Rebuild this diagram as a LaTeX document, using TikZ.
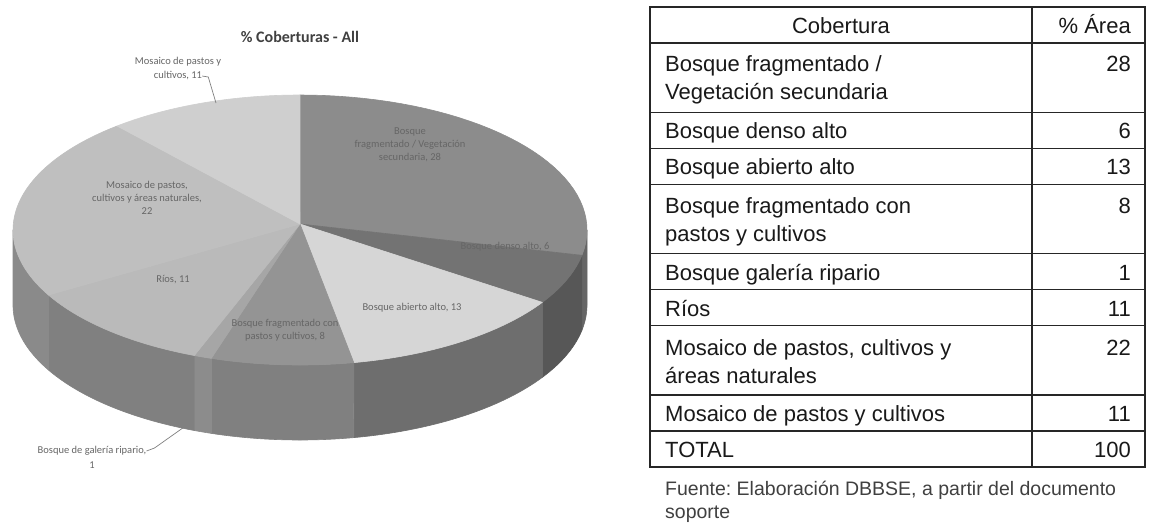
\documentclass[tikz,border=0pt]{standalone}
\usepackage{fontspec}
\setmainfont{Liberation Sans}
\newfontfamily\calfont{Carlito}
\frenchspacing
\newcommand{\topwedge}[3]{\filldraw[fill=#3,draw=#3,line width=0.6pt,line join=round] (300,224) -- plot[domain=0:1,samples=40] ({300+287*cos(#1+(#2-#1)*\x)},{230+135*sin(#1+(#2-#1)*\x)}) -- cycle;}
\newcommand{\sidewall}[3]{\filldraw[fill=#3,draw=#3,line width=0.6pt,line join=round] plot[domain=0:1,samples=30] ({300+287*cos(#1+(#2-#1)*\x)},{230+135*sin(#1+(#2-#1)*\x)}) -- plot[domain=0:1,samples=30] ({300+287*cos(#2-(#2-#1)*\x)},{305+135*sin(#2-(#2-#1)*\x)}) -- cycle;}
\begin{document}
\begin{tikzpicture}[x=1pt,y=-1pt,
  tabtxt/.style={font=\fontsize{22}{26}\selectfont, text=black!90, inner sep=0pt},
  lefttxt/.style={tabtxt, anchor=base west},
  numtxt/.style={tabtxt, anchor=base east},
  srctxt/.style={font=\fontsize{19.5}{23}\selectfont, text=black!75, inner sep=0pt, anchor=base west},
  tabline/.style={draw=black!85, line width=1.3pt},
  pielbl/.style={font=\calfont\fontsize{10.5}{13}\selectfont, text=black!60, align=center, inner sep=0pt},
  leader/.style={draw=black!50, line width=0.7pt}]
\useasboundingbox (0,0) rectangle (1153,523);
\fill[white] (0,0) rectangle (1153,523);

% ---------- pie chart ----------
\node[font=\calfont\bfseries\fontsize{16}{19}\selectfont, text=black!75, inner sep=0pt] (title) at (300,37) {\% Coberturas - All};

% side walls
\sidewall{0}{10.8}{black!60}
\sidewall{10.8}{32.4}{black!66}
\sidewall{32.4}{79.2}{black!57}
\sidewall{79.2}{108}{black!50}
\sidewall{108}{111.6}{black!45}
\sidewall{111.6}{151.2}{black!50}
\sidewall{151.2}{180}{black!46}

% top surface
\topwedge{-90}{10.8}{black!45}
\topwedge{10.8}{32.4}{black!55}
\topwedge{32.4}{79.2}{black!16}
\topwedge{79.2}{108}{black!42}
\topwedge{108}{111.6}{black!35}
\topwedge{111.6}{151.2}{black!27}
\topwedge{151.2}{230.4}{black!25}
\topwedge{230.4}{270}{black!19}

% labels inside the pie
\node[pielbl] (lfv) at (410,145) {Bosque\\fragmentado / Vegetación\\secundaria, 28};
\node[pielbl] (lden) at (505,247) {Bosque denso alto, 6};
\node[pielbl] (labi) at (412,308) {Bosque abierto alto, 13};
\node[pielbl] (lfcp) at (285,330) {Bosque fragmentado con\\pastos y cultivos, 8};
\node[pielbl] (lrio) at (173,280) {Ríos, 11};
\node[pielbl] (lman) at (147,198) {Mosaico de pastos,\\cultivos y áreas naturales,\\22};

% outside labels with leaders
\node[pielbl] (lmpcA) at (178,62) {Mosaico de pastos y};
\node[pielbl] (lmpcB) at (178,76) {cultivos, 11};
\coordinate (mpcpt) at (216,103);
\draw[leader] (lmpcB.east) -- ++(6,1) -- (mpcpt);

\node[pielbl] (lgalA) at (92,451) {Bosque de galería ripario,};
\node[pielbl] (lgalB) at (92,465) {1};
\coordinate (galpt) at (187,425);
\draw[leader] (lgalA.east) -- ++(8,-3) -- (galpt);

% ---------- table ----------
\draw[tabline] (650,7) rectangle (1145,466.9);
\draw[tabline] (1032,7) -- (1032,466.9);
\foreach \yy in {43,112.3,148.3,184.3,253.6,289.6,325.6,394.9,430.9}
  \draw[tabline] (650,\yy) -- (1145,\yy);

\node[tabtxt, anchor=base] (hcob) at (841,33) {Cobertura};
\node[numtxt] (harea) at (1131,33) {\% Área};

\node[lefttxt] (r1a) at (665,71) {Bosque fragmentado /};
\node[lefttxt] (r1b) at (665,99) {Vegetación secundaria};
\node[numtxt] (n1) at (1131,71) {28};

\node[lefttxt] (r2) at (665,138) {Bosque denso alto};
\node[numtxt] (n2) at (1131,138) {6};

\node[lefttxt] (r3) at (665,174) {Bosque abierto alto};
\node[numtxt] (n3) at (1131,174) {13};

\node[lefttxt] (r4a) at (665,213) {Bosque fragmentado con};
\node[lefttxt] (r4b) at (665,241) {pastos y cultivos};
\node[numtxt] (n4) at (1131,213) {8};

\node[lefttxt] (r5) at (665,280) {Bosque galería ripario};
\node[numtxt] (n5) at (1131,280) {1};

\node[lefttxt] (r6) at (665,316) {Ríos};
\node[numtxt] (n6) at (1131,316) {11};

\node[lefttxt] (r7a) at (665,355) {Mosaico de pastos, cultivos y};
\node[lefttxt] (r7b) at (665,383) {áreas naturales};
\node[numtxt] (n7) at (1131,355) {22};

\node[lefttxt] (r8) at (665,421) {Mosaico de pastos y cultivos};
\node[numtxt] (n8) at (1131,421) {11};

\node[lefttxt] (rt) at (665,457) {TOTAL};
\node[numtxt] (nt) at (1131,457) {100};

\node[srctxt] (src1) at (665,495) {Fuente: Elaboración DBBSE, a partir del documento};
\node[srctxt] (src2) at (665,518) {soporte};
\end{tikzpicture}
\end{document}
